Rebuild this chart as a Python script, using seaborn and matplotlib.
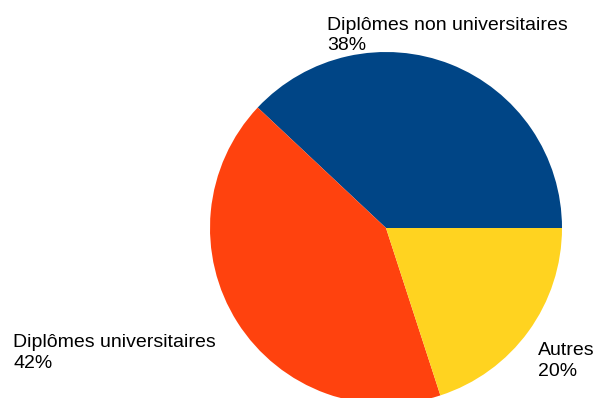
import matplotlib
matplotlib.use("Agg")
import matplotlib.pyplot as plt
import seaborn as sns

categories = ["Diplômes non universitaires", "Diplômes universitaires", "Autres"]
values = [38, 42, 20]
pct_labels = ["38%", "42%", "20%"]
colors = ["#004586", "#ff420e", "#ffd320"]

sns.set_style("white")
plt.rcParams["font.family"] = ["Liberation Sans", "DejaVu Sans"]

W, H = 598, 398
fig = plt.figure(figsize=(W / 100, H / 100), dpi=100)
cx, cy, r = 386, 228, 176
ax = fig.add_axes([(cx - r) / W, (H - cy - r) / H, 2 * r / W, 2 * r / H])
palette = sns.color_palette(colors)
ax.pie(values, colors=palette, startangle=0, counterclock=True, radius=1,
       wedgeprops=dict(linewidth=0))
ax.set_xlim(-1, 1)
ax.set_ylim(-1, 1)
ax.set_aspect("equal")
ax.axis("off")

# label positions in pixels: (left x, baseline y of first line)
label_pos = [(327, 29.5), (13, 347), (538, 355)]
line_gap = 21
for name, pct, (x, y) in zip(categories, pct_labels, label_pos):
    fig.text(x / W, 1 - y / H, name, fontsize=14, ha="left", va="baseline", color="#000000")
    fig.text(x / W, 1 - (y + line_gap) / H, pct, fontsize=14, ha="left", va="baseline", color="#000000")

fig.savefig("out.png", dpi=100)
